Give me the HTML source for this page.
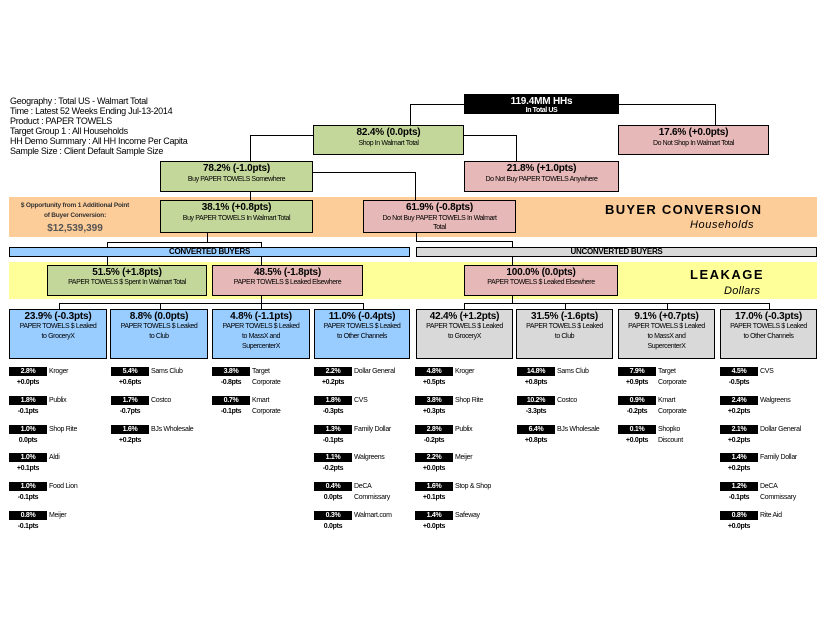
<!DOCTYPE html>
<html><head><meta charset="utf-8"><style>
*{margin:0;padding:0;box-sizing:border-box}
body{width:825px;height:638px;background:#fff;position:relative;overflow:hidden;font-family:"Liberation Sans",Arial,sans-serif;color:#000}
.a{position:absolute}
.b{position:absolute;border:1px solid #000;text-align:center;line-height:1;white-space:nowrap}
.b .t{font-weight:bold;font-size:10px;margin-top:2px;letter-spacing:-0.2px}
.b .s{font-size:7px;margin-top:1px;line-height:10px;letter-spacing:-0.4px}
.g{background:#c4d79b}.p{background:#e6b8b7}.bl{background:#99ccff}.gr{background:#d9d9d9}
.h{position:absolute;background:#000;height:1px}
.v{position:absolute;background:#000;width:1px}
.hd{position:absolute;left:10px;font-size:9px;line-height:10px;letter-spacing:-0.3px}
.k{position:absolute;width:100px;height:26px;font-size:7px;letter-spacing:-0.3px;white-space:nowrap}
.k .n{position:absolute;left:0;top:0;width:38px;height:9px;background:#000;color:#fff;font-weight:bold;text-align:center;line-height:9px}
.k .d{position:absolute;left:0;top:11px;width:38px;text-align:center;font-weight:bold;line-height:9px}
.k .m{position:absolute;left:40px;top:0;line-height:9px}
.k .m2{position:absolute;left:40px;top:11px;line-height:9px}
</style></head><body>
<div class="hd" style="top:96px">Geography : Total US - Walmart Total<br>Time : Latest 52 Weeks Ending Jul-13-2014<br>Product : PAPER TOWELS<br>Target Group 1 : All Households<br>HH Demo Summary : All HH Income Per Capita<br>Sample Size : Client Default Sample Size</div>

<div class="a" style="left:9px;top:197px;width:808px;height:40px;background:#fccc99"></div>
<div class="a" style="left:9px;top:262px;width:808px;height:37px;background:#ffff99"></div>

<div class="a" style="left:10px;top:201px;width:130px;text-align:center;font-size:6.5px;font-weight:bold;line-height:10px;color:#333;white-space:nowrap;letter-spacing:-0.2px">$ Opportunity from 1 Additional Point<br>of Buyer Conversion:</div>
<div class="a" style="left:10px;top:223px;width:130px;text-align:center;font-size:10px;font-weight:bold;color:#555">$12,539,399</div>
<div class="a" style="left:605px;top:202px;font-size:13px;font-weight:bold;letter-spacing:1.3px">BUYER CONVERSION</div>
<div class="a" style="left:690px;top:219px;font-size:11px;font-style:italic;letter-spacing:0.6px">Households</div>
<div class="a" style="left:690px;top:267px;font-size:13px;font-weight:bold;letter-spacing:1.5px">LEAKAGE</div>
<div class="a" style="left:724px;top:285px;font-size:11px;font-style:italic;letter-spacing:0.3px">Dollars</div>

<div class="h" style="left:410px;top:104px;width:54px"></div><div class="v" style="left:410px;top:104px;height:21px"></div>
<div class="h" style="left:619px;top:104px;width:96px"></div><div class="v" style="left:715px;top:104px;height:21px"></div>
<div class="h" style="left:250px;top:135px;width:63px"></div><div class="v" style="left:250px;top:135px;height:26px"></div>
<div class="h" style="left:464px;top:135px;width:52px"></div><div class="v" style="left:516px;top:135px;height:26px"></div>
<div class="v" style="left:250px;top:192px;height:8px"></div>
<div class="h" style="left:313px;top:172px;width:102px"></div><div class="v" style="left:415px;top:172px;height:28px"></div>
<div class="v" style="left:207px;top:233px;height:9px"></div>
<div class="h" style="left:107px;top:242px;width:155px"></div>
<div class="v" style="left:107px;top:242px;height:5px"></div><div class="v" style="left:261px;top:242px;height:5px"></div>
<div class="v" style="left:416px;top:233px;height:8px"></div>
<div class="h" style="left:416px;top:241px;width:96px"></div><div class="v" style="left:512px;top:241px;height:6px"></div>
<div class="v" style="left:107px;top:256px;height:9px"></div><div class="v" style="left:261px;top:256px;height:9px"></div>
<div class="v" style="left:512px;top:256px;height:9px"></div>
<div class="v" style="left:261px;top:296px;height:7px"></div>
<div class="h" style="left:59px;top:303px;width:305px"></div>
<div class="v" style="left:59px;top:303px;height:6px"></div><div class="v" style="left:160px;top:303px;height:6px"></div><div class="v" style="left:261px;top:303px;height:6px"></div><div class="v" style="left:363px;top:303px;height:6px"></div>
<div class="v" style="left:512px;top:296px;height:7px"></div>
<div class="h" style="left:464px;top:303px;width:306px"></div>
<div class="v" style="left:464px;top:303px;height:6px"></div><div class="v" style="left:565px;top:303px;height:6px"></div><div class="v" style="left:667px;top:303px;height:6px"></div><div class="v" style="left:769px;top:303px;height:6px"></div>

<div class="b" style="left:464px;top:94px;width:155px;height:20px;background:#000;color:#fff"><div class="t" style="margin-top:2px">119.4MM HHs</div><div class="s" style="margin-top:0;line-height:8px;font-weight:bold">In Total US</div></div>
<div class="b g" style="left:313px;top:125px;width:151px;height:30px"><div class="t">82.4% (0.0pts)</div><div class="s">Shop In Walmart Total</div></div>
<div class="b p" style="left:618px;top:125px;width:151px;height:30px"><div class="t">17.6% (+0.0pts)</div><div class="s">Do Not Shop In Walmart Total</div></div>
<div class="b g" style="left:160px;top:161px;width:153px;height:31px"><div class="t">78.2% (-1.0pts)</div><div class="s">Buy PAPER TOWELS Somewhere</div></div>
<div class="b p" style="left:464px;top:161px;width:155px;height:31px"><div class="t">21.8% (+1.0pts)</div><div class="s">Do Not Buy PAPER TOWELS Anywhere</div></div>
<div class="b g" style="left:160px;top:200px;width:153px;height:33px"><div class="t">38.1% (+0.8pts)</div><div class="s">Buy PAPER TOWELS In Walmart Total</div></div>
<div class="b p" style="left:363px;top:200px;width:153px;height:33px"><div class="t">61.9% (-0.8pts)</div><div class="s" style="line-height:9px">Do Not Buy PAPER TOWELS In Walmart<br>Total</div></div>

<div class="b bl" style="left:9px;top:247px;width:401px;height:10px;font-size:8px;font-weight:bold;line-height:8px;letter-spacing:-0.3px">CONVERTED BUYERS</div>
<div class="b gr" style="left:416px;top:247px;width:401px;height:10px;font-size:8px;font-weight:bold;line-height:8px;letter-spacing:-0.3px">UNCONVERTED BUYERS</div>

<div class="b g" style="left:47px;top:265px;width:160px;height:31px"><div class="t">51.5% (+1.8pts)</div><div class="s" style="margin-top:0">PAPER TOWELS $ Spent In Walmart Total</div></div>
<div class="b p" style="left:212px;top:265px;width:151px;height:31px"><div class="t">48.5% (-1.8pts)</div><div class="s" style="margin-top:0">PAPER TOWELS $ Leaked Elsewhere</div></div>
<div class="b p" style="left:464px;top:265px;width:154px;height:31px"><div class="t">100.0% (0.0pts)</div><div class="s" style="margin-top:0">PAPER TOWELS $ Leaked Elsewhere</div></div>

<div class="b bl" style="left:9px;top:309px;width:98px;height:50px"><div class="t">23.9% (-0.3pts)</div><div class="s" style="margin-top:0">PAPER TOWELS $ Leaked<br>to GroceryX</div></div>
<div class="b bl" style="left:110px;top:309px;width:98px;height:50px"><div class="t">8.8% (0.0pts)</div><div class="s" style="margin-top:0">PAPER TOWELS $ Leaked<br>to Club</div></div>
<div class="b bl" style="left:212px;top:309px;width:98px;height:50px"><div class="t">4.8% (-1.1pts)</div><div class="s" style="margin-top:0">PAPER TOWELS $ Leaked<br>to MassX and<br>SupercenterX</div></div>
<div class="b bl" style="left:314px;top:309px;width:96px;height:50px"><div class="t">11.0% (-0.4pts)</div><div class="s" style="margin-top:0">PAPER TOWELS $ Leaked<br>to Other Channels</div></div>
<div class="b gr" style="left:416px;top:309px;width:97px;height:50px"><div class="t">42.4% (+1.2pts)</div><div class="s" style="margin-top:0">PAPER TOWELS $ Leaked<br>to GroceryX</div></div>
<div class="b gr" style="left:516px;top:309px;width:97px;height:50px"><div class="t">31.5% (-1.6pts)</div><div class="s" style="margin-top:0">PAPER TOWELS $ Leaked<br>to Club</div></div>
<div class="b gr" style="left:618px;top:309px;width:97px;height:50px"><div class="t">9.1% (+0.7pts)</div><div class="s" style="margin-top:0">PAPER TOWELS $ Leaked<br>to MassX and<br>SupercenterX</div></div>
<div class="b gr" style="left:720px;top:309px;width:97px;height:50px"><div class="t">17.0% (-0.3pts)</div><div class="s" style="margin-top:0">PAPER TOWELS $ Leaked<br>to Other Channels</div></div>

<div class="k" style="left:9px;top:367px"><div class="n">2.8%</div><div class="m">Kroger</div><div class="d">+0.0pts</div></div>
<div class="k" style="left:9px;top:396px"><div class="n">1.8%</div><div class="m">Publix</div><div class="d">-0.1pts</div></div>
<div class="k" style="left:9px;top:425px"><div class="n">1.0%</div><div class="m">Shop Rite</div><div class="d">0.0pts</div></div>
<div class="k" style="left:9px;top:453px"><div class="n">1.0%</div><div class="m">Aldi</div><div class="d">+0.1pts</div></div>
<div class="k" style="left:9px;top:482px"><div class="n">1.0%</div><div class="m">Food Lion</div><div class="d">-0.1pts</div></div>
<div class="k" style="left:9px;top:511px"><div class="n">0.8%</div><div class="m">Meijer</div><div class="d">-0.1pts</div></div>
<div class="k" style="left:111px;top:367px"><div class="n">5.4%</div><div class="m">Sams Club</div><div class="d">+0.6pts</div></div>
<div class="k" style="left:111px;top:396px"><div class="n">1.7%</div><div class="m">Costco</div><div class="d">-0.7pts</div></div>
<div class="k" style="left:111px;top:425px"><div class="n">1.6%</div><div class="m">BJs Wholesale</div><div class="d">+0.2pts</div></div>
<div class="k" style="left:212px;top:367px"><div class="n">3.8%</div><div class="m">Target</div><div class="m2">Corporate</div><div class="d">-0.8pts</div></div>
<div class="k" style="left:212px;top:396px"><div class="n">0.7%</div><div class="m">Kmart</div><div class="m2">Corporate</div><div class="d">-0.1pts</div></div>
<div class="k" style="left:314px;top:367px"><div class="n">2.2%</div><div class="m">Dollar General</div><div class="d">+0.2pts</div></div>
<div class="k" style="left:314px;top:396px"><div class="n">1.8%</div><div class="m">CVS</div><div class="d">-0.3pts</div></div>
<div class="k" style="left:314px;top:425px"><div class="n">1.3%</div><div class="m">Family Dollar</div><div class="d">-0.1pts</div></div>
<div class="k" style="left:314px;top:453px"><div class="n">1.1%</div><div class="m">Walgreens</div><div class="d">-0.2pts</div></div>
<div class="k" style="left:314px;top:482px"><div class="n">0.4%</div><div class="m">DeCA</div><div class="m2">Commissary</div><div class="d">0.0pts</div></div>
<div class="k" style="left:314px;top:511px"><div class="n">0.3%</div><div class="m">Walmart.com</div><div class="d">0.0pts</div></div>
<div class="k" style="left:415px;top:367px"><div class="n">4.8%</div><div class="m">Kroger</div><div class="d">+0.5pts</div></div>
<div class="k" style="left:415px;top:396px"><div class="n">3.8%</div><div class="m">Shop Rite</div><div class="d">+0.3pts</div></div>
<div class="k" style="left:415px;top:425px"><div class="n">2.8%</div><div class="m">Publix</div><div class="d">-0.2pts</div></div>
<div class="k" style="left:415px;top:453px"><div class="n">2.2%</div><div class="m">Meijer</div><div class="d">+0.0pts</div></div>
<div class="k" style="left:415px;top:482px"><div class="n">1.6%</div><div class="m">Stop &amp; Shop</div><div class="d">+0.1pts</div></div>
<div class="k" style="left:415px;top:511px"><div class="n">1.4%</div><div class="m">Safeway</div><div class="d">+0.0pts</div></div>
<div class="k" style="left:517px;top:367px"><div class="n">14.8%</div><div class="m">Sams Club</div><div class="d">+0.8pts</div></div>
<div class="k" style="left:517px;top:396px"><div class="n">10.2%</div><div class="m">Costco</div><div class="d">-3.3pts</div></div>
<div class="k" style="left:517px;top:425px"><div class="n">6.4%</div><div class="m">BJs Wholesale</div><div class="d">+0.8pts</div></div>
<div class="k" style="left:618px;top:367px"><div class="n">7.9%</div><div class="m">Target</div><div class="m2">Corporate</div><div class="d">+0.9pts</div></div>
<div class="k" style="left:618px;top:396px"><div class="n">0.9%</div><div class="m">Kmart</div><div class="m2">Corporate</div><div class="d">-0.2pts</div></div>
<div class="k" style="left:618px;top:425px"><div class="n">0.1%</div><div class="m">Shopko</div><div class="m2">Discount</div><div class="d">+0.0pts</div></div>
<div class="k" style="left:720px;top:367px"><div class="n">4.5%</div><div class="m">CVS</div><div class="d">-0.5pts</div></div>
<div class="k" style="left:720px;top:396px"><div class="n">2.4%</div><div class="m">Walgreens</div><div class="d">+0.2pts</div></div>
<div class="k" style="left:720px;top:425px"><div class="n">2.1%</div><div class="m">Dollar General</div><div class="d">+0.2pts</div></div>
<div class="k" style="left:720px;top:453px"><div class="n">1.4%</div><div class="m">Family Dollar</div><div class="d">+0.2pts</div></div>
<div class="k" style="left:720px;top:482px"><div class="n">1.2%</div><div class="m">DeCA</div><div class="m2">Commissary</div><div class="d">-0.1pts</div></div>
<div class="k" style="left:720px;top:511px"><div class="n">0.8%</div><div class="m">Rite Aid</div><div class="d">+0.0pts</div></div>
</body></html>
